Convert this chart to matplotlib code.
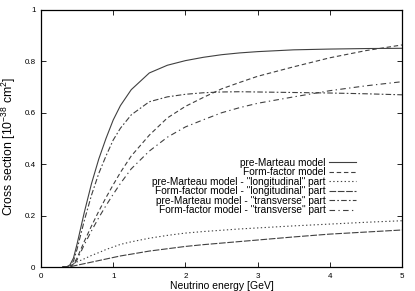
import matplotlib
matplotlib.use("Agg")
import matplotlib.pyplot as plt

plt.rcParams['font.family'] = ['Liberation Sans', 'DejaVu Sans']
plt.rcParams['mathtext.default'] = 'regular'

energy = [0.3, 0.35, 0.4, 0.45, 0.5, 0.6, 0.7, 0.8, 0.9, 1.0, 1.1, 1.25, 1.5, 1.75,
          2.0, 2.25, 2.5, 2.75, 3.0, 3.5, 4.0, 4.5, 5.0]

pre_marteau = [0, 0, 0.008, 0.035, 0.09, 0.213, 0.325, 0.42, 0.50, 0.572, 0.628, 0.69,
               0.755, 0.785, 0.803, 0.816, 0.826, 0.833, 0.838, 0.845, 0.848, 0.85, 0.851]
form_factor = [0, 0, 0.002, 0.012, 0.035, 0.10, 0.16, 0.217, 0.27, 0.32, 0.368, 0.432,
               0.513, 0.58, 0.625, 0.66, 0.693, 0.718, 0.742, 0.779, 0.814, 0.842, 0.864]
pm_long = [0, 0, 0.004, 0.012, 0.02, 0.032, 0.045, 0.056, 0.068, 0.078, 0.088, 0.098,
           0.112, 0.123, 0.132, 0.138, 0.143, 0.148, 0.152, 0.16, 0.167, 0.174, 0.18]
ff_long = [0, 0, 0.001, 0.004, 0.007, 0.013, 0.019, 0.025, 0.031, 0.037, 0.043, 0.05,
           0.062, 0.071, 0.08, 0.087, 0.093, 0.099, 0.105, 0.117, 0.128, 0.136, 0.144]
pm_trans = [0, 0, 0.004, 0.023, 0.07, 0.181, 0.28, 0.364, 0.432, 0.494, 0.54, 0.592,
            0.643, 0.662, 0.672, 0.678, 0.681, 0.682, 0.681, 0.679, 0.677, 0.674, 0.67]
ff_trans = [0, 0, 0.001, 0.008, 0.028, 0.087, 0.141, 0.192, 0.239, 0.283, 0.325, 0.382,
            0.451, 0.505, 0.545, 0.573, 0.60, 0.62, 0.637, 0.662, 0.686, 0.705, 0.721]

labels = ['pre-Marteau model', 'Form-factor model',
          'pre-Marteau model - "longitudinal" part',
          'Form-factor model - "longitudinal" part',
          'pre-Marteau model - "transverse" part',
          'Form-factor model - "transverse" part']
series = [pre_marteau, form_factor, pm_long, ff_long, pm_trans, ff_trans]
styles = ['-', (0, (4, 2.5)), (0, (1.2, 2.2)), (0, (6, 1.5)), (0, (5, 2, 1.5, 2)),
          (0, (5, 3, 1.2, 3))]

x_ticks = [0, 1, 2, 3, 4, 5]
y_ticks = [0, 0.2, 0.4, 0.6, 0.8, 1]
y_ticklabels = ['0', '0.2', '0.4', '0.6', '0.8', '1']

fig = plt.figure(figsize=(4.15, 2.91), dpi=100)
ax = fig.add_axes([41/415, 24/291, 361/415, 257/291])

for ys, lab, ls in zip(series, labels, styles):
    ax.plot(energy, ys, color='#404040', lw=0.8, linestyle=ls, label=lab)

ax.set_xlim(0, 5)
ax.set_ylim(0, 1)
ax.set_xticks(x_ticks)
ax.set_xticklabels([str(t) for t in x_ticks])
ax.set_yticks(y_ticks)
ax.set_yticklabels(y_ticklabels)
ax.tick_params(direction='in', length=3.5, width=0.6, top=True, right=True,
               labelsize=5.8, pad=4, colors='black')
for s in ax.spines.values():
    s.set_linewidth(0.9)

ax.set_xlabel('Neutrino energy [GeV]', fontsize=7.5, labelpad=1)
ax.set_ylabel('Cross section [10$^{-38}$ cm$^{2}$]', fontsize=8.8)
ax.yaxis.set_label_coords(-0.064, 0.47)

leg = ax.legend(loc='upper right', bbox_to_anchor=(0.872, 0.425), markerfirst=False,
                frameon=False, fontsize=7.3, handlelength=2.6, handletextpad=0.4,
                labelspacing=-0.05, borderpad=0, borderaxespad=0)

fig.savefig('out.png', dpi=100)
